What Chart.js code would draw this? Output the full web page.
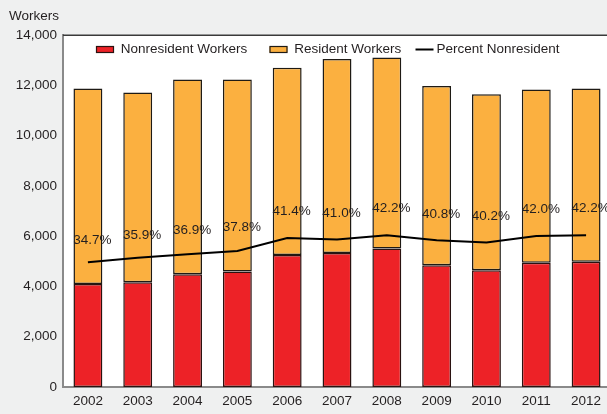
<!DOCTYPE html>
<html>
<head>
<meta charset="utf-8">
<script src="https://cdn.jsdelivr.net/npm/chart.js@4/dist/chart.umd.min.js"></script>
<style>
  html, body { margin: 0; padding: 0; background: #eff0f0; overflow: hidden; }
  #wrap { position: absolute; left: 0; top: 0; width: 611px; height: 418px; }
</style>
</head>
<body>
<div id="wrap"><canvas id="c" width="611" height="418"></canvas></div>
<script>
// ---- data ----
const years = ['2002','2003','2004','2005','2006','2007','2008','2009','2010','2011','2012'];
const nonresidentWorkers = [4100, 4170, 4490, 4600, 5250, 5330, 5510, 4850, 4650, 4940, 4980];
const residentWorkers    = [7780, 7550, 7750, 7640, 7450, 7720, 7600, 7130, 7000, 6900, 6900];
const percentNonresident = [34.7, 35.9, 36.9, 37.8, 41.4, 41.0, 42.2, 40.8, 40.2, 42.0, 42.2];
const yTicks = [0, 2000, 4000, 6000, 8000, 10000, 12000, 14000];

const FONT = '"Liberation Sans", Arial, Helvetica, sans-serif';
const TXT = '#231f20';

const plotBg = {
  id: 'plotBg',
  beforeDraw(chart) {
    const {ctx, chartArea: a} = chart;
    ctx.save();
    ctx.fillStyle = '#ffffff';
    ctx.fillRect(a.left, a.top, a.right - a.left, a.bottom - a.top);
    ctx.restore();
  },
  afterDraw(chart) {
    const {ctx, chartArea: a} = chart;
    ctx.save();
    ctx.strokeStyle = '#3a3a3a';
    ctx.lineWidth = 1.5;
    ctx.beginPath();
    ctx.moveTo(a.left, a.top);
    ctx.lineTo(a.right, a.top);
    ctx.stroke();
    ctx.restore();
  }
};

const pctLabels = {
  id: 'pctLabels',
  afterDatasetsDraw(chart) {
    const {ctx} = chart;
    const meta = chart.getDatasetMeta(0);
    const ys = chart.scales.yLab;
    ctx.save();
    ctx.font = '13.5px ' + FONT;
    ctx.fillStyle = TXT;
    ctx.textAlign = 'center';
    ctx.textBaseline = 'middle';
    meta.data.forEach((pt, i) => {
      const v = percentNonresident[i];
      ctx.fillText(v.toFixed(1) + '%', pt.x + 4.5, ys.getPixelForValue(v));
    });
    ctx.restore();
  }
};

const legendItems = [
  {ds: 1, x: 96},
  {ds: 2, x: 269.5},
  {ds: 0, x: 415.5}
];
const customLegend = {
  id: 'customLegend',
  afterDraw(chart) {
    const {ctx} = chart;
    const y = 49.5;
    ctx.save();
    ctx.font = '13.5px ' + FONT;
    ctx.textBaseline = 'middle';
    ctx.textAlign = 'left';
    legendItems.forEach(it => {
      const ds = chart.data.datasets[it.ds];
      if (ds.type === 'line') {
        ctx.strokeStyle = ds.borderColor;
        ctx.lineWidth = 2;
        ctx.beginPath();
        ctx.moveTo(it.x, y);
        ctx.lineTo(it.x + 18, y);
        ctx.stroke();
        ctx.fillStyle = TXT;
        ctx.fillText(ds.label, it.x + 21, y);
      } else {
        ctx.fillStyle = ds.backgroundColor;
        ctx.fillRect(it.x, y - 3, 18, 6);
        ctx.strokeStyle = ds.borderColor;
        ctx.lineWidth = 1.2;
        ctx.strokeRect(it.x + 0.5, y - 3, 17, 6);
        ctx.fillStyle = TXT;
        ctx.fillText(ds.label, it.x + 18 + 6.75, y);
      }
    });
    ctx.restore();
  }
};

new Chart(document.getElementById('c'), {
  data: {
    labels: years,
    datasets: [
      {
        type: 'line',
        label: 'Percent Nonresident',
        data: percentNonresident,
        yAxisID: 'yLine',
        borderColor: '#000000',
        borderWidth: 2,
        pointRadius: 0,
        tension: 0,
        fill: false,
        order: 0
      },
      {
        type: 'bar',
        label: 'Nonresident Workers',
        data: nonresidentWorkers,
        yAxisID: 'y',
        stack: 'w',
        backgroundColor: '#ed2227',
        borderColor: '#2a1210',
        borderWidth: 1.5,
        borderSkipped: false,
        barPercentage: 0.58,
        categoryPercentage: 1,
        order: 1
      },
      {
        type: 'bar',
        label: 'Resident Workers',
        data: residentWorkers,
        yAxisID: 'y',
        stack: 'w',
        backgroundColor: '#fbb040',
        borderColor: '#1e1a14',
        borderWidth: 1.5,
        borderSkipped: false,
        barPercentage: 0.58,
        categoryPercentage: 1,
        order: 1
      }
    ]
  },
  options: {
    responsive: false,
    animation: false,
    devicePixelRatio: 1,
    layout: { padding: { left: 9, right: 0, top: 0, bottom: 2.8 } },
    plugins: {
      legend: { display: false },
      tooltip: { enabled: false },
      title: {
        display: true,
        text: 'Workers',
        align: 'start',
        color: TXT,
        font: { family: FONT, size: 13.5, weight: 'normal' },
        padding: { top: 8, bottom: 11 }
      }
    },
    scales: {
      x: {
        stacked: true,
        offset: true,
        grid: { display: false, drawTicks: false },
        border: { display: true, color: '#8a8a8a', width: 2 },
        ticks: { color: TXT, font: { family: FONT, size: 13.5 }, padding: 6, maxRotation: 0, autoSkip: false }
      },
      y: {
        stacked: true,
        min: yTicks[0],
        max: yTicks[yTicks.length - 1],
        afterBuildTicks(scale) { scale.ticks = yTicks.map(v => ({value: v})); },
        afterFit(scale) { scale.width = 54; },
        grid: { display: false, drawTicks: false },
        border: { display: true, color: '#8a8a8a', width: 2 },
        ticks: {
          color: TXT,
          font: { family: FONT, size: 13.5 },
          padding: 6,
          callback: v => v.toLocaleString('en-US')
        }
      },
      yLine: { display: false, min: 0, max: 97.8 },
      yLab: { display: false, min: 0, max: 83 }
    }
  },
  plugins: [plotBg, pctLabels, customLegend]
});
</script>
</body>
</html>
